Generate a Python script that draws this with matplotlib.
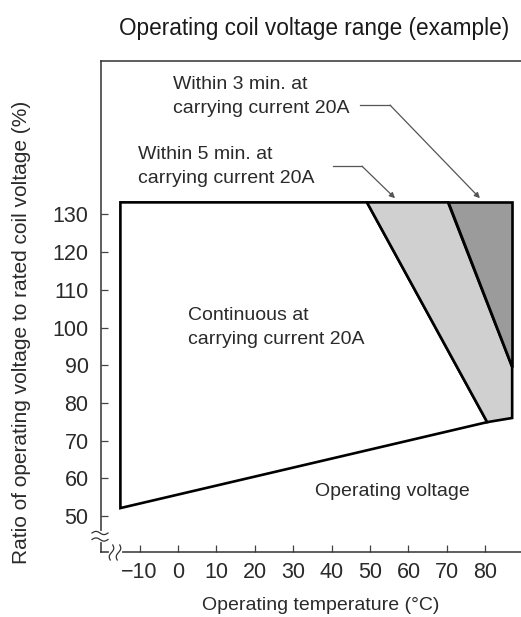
import numpy as np
import matplotlib
matplotlib.use("Agg")
import matplotlib.pyplot as plt

plt.rcParams['font.family'] = ['Liberation Sans', 'DejaVu Sans']

# ---- data ----
temp_ticks = [-10, 0, 10, 20, 30, 40, 50, 60, 70, 80]
temp_tick_labels = ['\u221210', '0', '10', '20', '30', '40', '50', '60', '70', '80']
volt_ticks = [50, 60, 70, 80, 90, 100, 110, 120, 130]

# continuous region (white)
cont_temp = [-15, 80.5, 49.2, -15]
cont_volt = [52.1, 74.9, 133.2, 133.2]
# within 5 min region (light grey)
min5_temp = [49.2, 70.3, 87, 87, 80.5]
min5_volt = [133.2, 133.2, 89.5, 76.0, 74.9]
# within 3 min region (dark grey)
min3_temp = [70.3, 87, 87]
min3_volt = [133.2, 133.2, 89.5]

# annotation leader geometry (data coords)
lead3_temp = [47.4, 55.2]
lead3_volt = [159.0, 159.0]
tip3 = (78.6, 134.3)
lead5_temp = [40.4, 47.9]
lead5_volt = [142.8, 142.8]
tip5 = (56.5, 134.3)

W, H = 521, 617
fig = plt.figure(figsize=(W / 100, H / 100), dpi=100)
fig.patch.set_facecolor('white')

ax_l, ax_b, ax_r, ax_t = 101, 552, 521, 61  # pixel positions
axw, axh = ax_r - ax_l, ax_b - ax_t
ax = fig.add_axes([ax_l / W, 1 - ax_b / H, axw / W, axh / H])
ax.set_xlim(-20.05, 89.3)
ax.set_ylim(40.45, 170.7)

ax.fill(cont_temp, cont_volt, facecolor='white', edgecolor='black', lw=1.9, joinstyle='miter', zorder=2)
ax.fill(min5_temp, min5_volt, facecolor='#d0d0d0', edgecolor='black', lw=1.9, joinstyle='miter', zorder=2)
ax.fill(min3_temp, min3_volt, facecolor='#9b9b9b', edgecolor='black', lw=1.9, joinstyle='miter', zorder=2)

# spines
ax.spines['right'].set_visible(False)
for s in ['left', 'bottom', 'top']:
    ax.spines[s].set_linewidth(1.1)
    ax.spines[s].set_color('#333333')

ax.set_xticks(temp_ticks)
ax.set_xticklabels(temp_tick_labels)
ax.set_yticks(volt_ticks)
ax.tick_params(axis='both', direction='in', width=0.9, color='#444444', labelsize=15.5, labelcolor='#2a2a2a')
ax.tick_params(axis='y', length=5, pad=9)
ax.tick_params(axis='x', length=5, pad=7, top=False)

ax.set_xlabel('Operating temperature (\u00b0C)', fontsize=14, color='#2a2a2a', va='center')
ax.xaxis.set_label_coords((321 - ax_l) / axw, (ax_b - 606) / axh)
ax.set_ylabel('Ratio of operating voltage to rated coil voltage (%)', fontsize=15, color='#2a2a2a', va='center')
ax.yaxis.set_label_coords((22 - ax_l) / axw, (ax_b - 332) / axh)

fig.text(314 / W, 1 - 29 / H, 'Operating coil voltage range (example)', fontsize=16.3,
         ha='center', va='center', color='#1a1a1a')

txt_kw = dict(fontsize=14, color='#2a2a2a', ha='left', va='center')
ax.text(-1.3, 161.3, 'Within 3 min. at\ncarrying current 20A', linespacing=1.6, **txt_kw)
ax.text(-10.4, 142.7, 'Within 5 min. at\ncarrying current 20A', linespacing=1.6, **txt_kw)
ax.text(2.6, 100, 'Continuous at\ncarrying current 20A', linespacing=1.5, **txt_kw)
ax.text(35.7, 56.6, 'Operating voltage', **txt_kw)

lead_col = '#555555'
ax.plot(lead3_temp, lead3_volt, color=lead_col, lw=0.9, zorder=3)
ax.annotate('', xy=tip3, xytext=(lead3_temp[1], lead3_volt[1]),
            arrowprops=dict(arrowstyle='-|>', color=lead_col, lw=0.9, mutation_scale=8,
                            shrinkA=0, shrinkB=0))
ax.plot(lead5_temp, lead5_volt, color=lead_col, lw=0.9, zorder=3)
ax.annotate('', xy=tip5, xytext=(lead5_temp[1], lead5_volt[1]),
            arrowprops=dict(arrowstyle='-|>', color=lead_col, lw=0.9, mutation_scale=8,
                            shrinkA=0, shrinkB=0))

# axis break marks (decoration), in pixel offsets converted to axes fraction
def px2ax(px, py):
    return (px - ax_l) / axw, (ax_b - py) / axh

t = np.linspace(0, 1, 30)
# y-axis break
x0, y0 = px2ax(101, 533)
x1, y1 = px2ax(101, 540)
ax.plot([x0, x1], [y0, y1], transform=ax.transAxes, color='white', lw=3, clip_on=False, zorder=5)
for yy in (533, 539.5):
    pxs = 92 + 16 * t
    pys = yy - 1.6 * np.sin(2 * np.pi * t)
    xa, ya = px2ax(pxs, pys)
    ax.plot(xa, ya, transform=ax.transAxes, color='#333333', lw=0.9, clip_on=False, zorder=6)
# x-axis break
x0, y0 = px2ax(111, 552)
x1, y1 = px2ax(120, 552)
ax.plot([x0, x1], [y0, y1], transform=ax.transAxes, color='white', lw=3, clip_on=False, zorder=5)
for xx in (111.5, 118.5):
    pys = 545 + 15 * t
    pxs = xx + 1.6 * np.sin(2 * np.pi * t) - 2.5 * (t - 0.5)
    xa, ya = px2ax(pxs, pys)
    ax.plot(xa, ya, transform=ax.transAxes, color='#333333', lw=0.9, clip_on=False, zorder=6)

fig.savefig('out.png', dpi=100, facecolor='white')
